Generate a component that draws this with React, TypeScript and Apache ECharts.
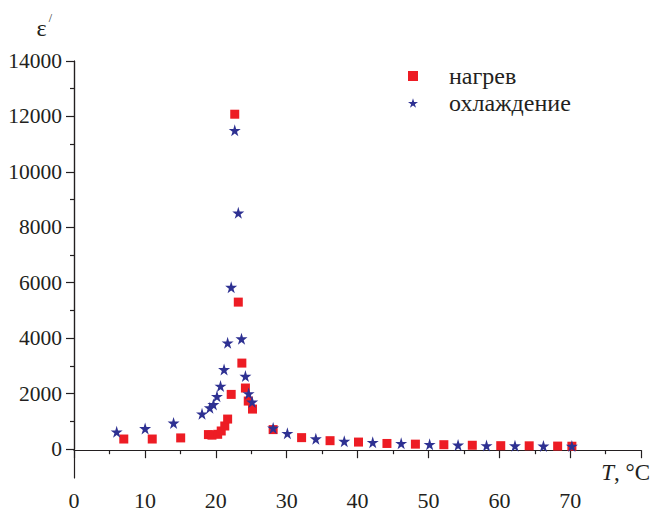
import React, { useEffect, useRef } from "react";
import * as echarts from "echarts";

const heatT = [7, 11, 15, 18.9, 19.4, 20.2, 20.7, 21.2, 21.6, 22.1, 22.6, 23.1, 23.6, 24.1, 24.5, 25.1, 28, 32, 36, 40, 44, 48, 52, 56, 60, 64, 68, 70];
const heatV = [360, 360, 400, 520, 500, 530, 650, 830, 1080, 1970, 12080, 5300, 3100, 2200, 1730, 1440, 700, 410, 300, 250, 200, 175, 155, 135, 120, 115, 105, 100];

const coolT = [6, 10, 14, 18, 19.1, 19.6, 20.1, 20.6, 21.1, 21.6, 22.1, 22.6, 23.1, 23.55, 24.1, 24.55, 25.05, 28, 30, 34, 38, 42, 46, 50, 54, 58, 62, 66, 70];
const coolV = [620, 740, 940, 1270, 1490, 1610, 1900, 2270, 2870, 3830, 5840, 11500, 8520, 3980, 2630, 2000, 1700, 760, 565, 370, 280, 240, 205, 170, 145, 125, 120, 110, 105];

const seriesNames = ["нагрев", "охлаждение"];

const STAR = "path://M50,0 L61,35 L98,35 L68,57 L79,91 L50,70 L21,91 L32,57 L2,35 L39,35 Z";
const FONT = "Liberation Serif";
const INK = "#231f20";

export default function App() {
  const ref = useRef<HTMLDivElement>(null);
  useEffect(() => {
    if (!ref.current) return;
    const chart = echarts.init(ref.current, undefined, { renderer: "svg" });
    const axisLine = { show: true, lineStyle: { color: INK, width: 1.2 } };
    chart.setOption({
      animation: false,
      backgroundColor: "#ffffff",
      textStyle: { fontFamily: FONT, color: INK },
      grid: [
        { left: 74, right: 10, top: 61, bottom: 65 },
        { left: 74, right: 10, top: 61, bottom: 36 },
      ],
      legend: {
        orient: "vertical",
        left: 403,
        top: 59,
        itemWidth: 10,
        itemHeight: 10,
        itemGap: 3,
        data: seriesNames,
        textStyle: { fontFamily: FONT, fontSize: 24, color: INK, padding: [0, 0, 0, 26], lineHeight: 24 },
      },
      xAxis: [
        { gridIndex: 0, type: "value", min: 0, max: 80, show: false },
        {
          gridIndex: 1,
          type: "value",
          min: 0,
          max: 80,
          interval: 10,
          axisLine,
          axisTick: { show: true, length: 8, lineStyle: { color: INK, width: 1.2 } },
          minorTick: { show: true, splitNumber: 2, length: 4, lineStyle: { color: INK, width: 1.2 } },
          splitLine: { show: false },
          axisLabel: {
            margin: 11,
            fontSize: 22,
            fontFamily: FONT,
            color: INK,
            formatter: (v: number) => (v === 80 ? "" : String(v)),
          },
          name: "{i|T}, °C",
          nameLocation: "end",
          nameGap: -40,
          nameTextStyle: {
            align: "left",
            verticalAlign: "top",
            padding: [11, 0, 0, 0],
            fontSize: 23,
            fontFamily: FONT,
            color: INK,
            rich: { i: { fontStyle: "italic", fontSize: 23, fontFamily: FONT, color: INK } },
          },
        },
      ],
      yAxis: [
        {
          gridIndex: 0,
          type: "value",
          min: 0,
          max: 14000,
          interval: 2000,
          axisLine,
          axisTick: { show: true, length: 8, lineStyle: { color: INK, width: 1.2 } },
          minorTick: { show: true, splitNumber: 2, length: 4, lineStyle: { color: INK, width: 1.2 } },
          splitLine: { show: false },
          axisLabel: { margin: 12, fontSize: 21.5, fontFamily: FONT, color: INK, formatter: (v: number) => String(v) },
          name: "{e|ε}{s|/}",
          nameLocation: "end",
          nameGap: 17,
          nameTextStyle: {
            align: "right",
            padding: [0, 22, 0, 0],
            rich: {
              e: { fontSize: 24, fontFamily: FONT, color: INK },
              s: { fontSize: 12, fontFamily: FONT, color: INK, verticalAlign: "top", padding: [0, 0, 20, 2] },
            },
          },
        },
        {
          gridIndex: 1,
          type: "value",
          min: -1000,
          max: 14000,
          axisLine,
          axisTick: { show: false },
          axisLabel: { show: false },
          splitLine: { show: false },
        },
      ],
      series: [
        {
          name: seriesNames[0],
          type: "scatter",
          xAxisIndex: 0,
          yAxisIndex: 0,
          symbol: "rect",
          symbolSize: 9,
          itemStyle: { color: "#ed1c24", opacity: 1 },
          data: heatT.map((t, i) => [t, heatV[i]]),
        },
        {
          name: seriesNames[1],
          type: "scatter",
          xAxisIndex: 0,
          yAxisIndex: 0,
          symbol: STAR,
          symbolSize: 12,
          itemStyle: { color: "#2e3192", opacity: 1 },
          data: coolT.map((t, i) => [t, coolV[i]]),
        },
      ],
    });
    return () => chart.dispose();
  }, []);
  return <div ref={ref} style={{ position: "fixed", left: 0, top: 0, width: 653, height: 514 }} />;
}
